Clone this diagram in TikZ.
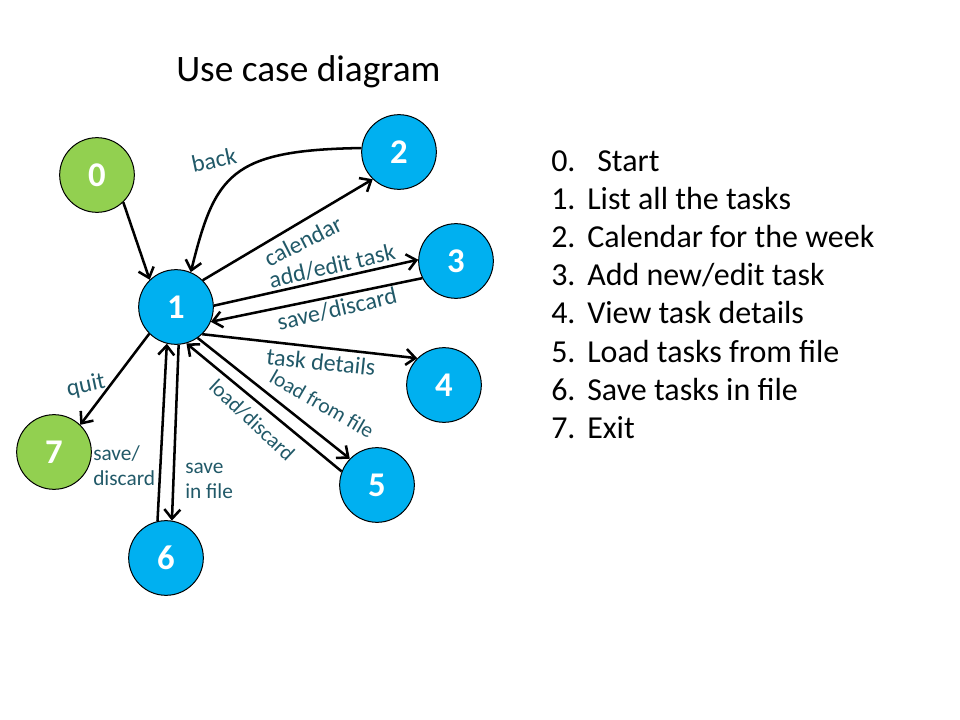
\documentclass[tikz,border=0pt]{standalone}
\usepackage{fontspec}
\setmainfont{Carlito}
\usetikzlibrary{arrows.meta, positioning}
\definecolor{caseblue}{RGB}{0,176,240}
\definecolor{casegreen}{RGB}{146,208,80}
\definecolor{labelteal}{RGB}{33,89,104}

\begin{document}
\begin{tikzpicture}[x=0.75pt, y=-0.75pt,
    state/.style={circle, draw=black, line width=0.75pt, minimum size=56pt,
        inner sep=0pt, text=white, font=\fontsize{26}{30}\selectfont\bfseries},
    blue state/.style={state, fill=caseblue},
    green state/.style={state, fill=casegreen},
    move/.style={-{Straight Barb[length=7pt, width=12pt]}, line width=1.9pt},
    edge label/.style={text=labelteal, inner sep=0pt, font=\fontsize{18}{21}\selectfont},
    small label/.style={edge label, font=\fontsize{16}{19}\selectfont},
    list item/.style={anchor=base west, inner sep=0pt, font=\fontsize{24}{28}\selectfont}]
    \useasboundingbox (0,0) rectangle (960,720);

    % title
    \node[anchor=base west, inner sep=0pt, font=\fontsize{28}{32}\selectfont] (title) at (176,82) {Use case diagram};

    % states
    \node[green state] (s0) at (97,175) {0};
    \node[blue state] (s1) at (176,307) {1};
    \node[blue state] (s2) at (399,152) {2};
    \node[blue state] (s3) at (456,261) {3};
    \node[blue state] (s4) at (444,385) {4};
    \node[blue state] (s5) at (377,485) {5};
    \node[blue state] (s6) at (166,558) {6};
    \node[green state] (s7) at (54,452) {7};

    % transitions
    \draw[move] (s0.-46) -- (s1.134);
    \draw[move] (s2.174) .. controls (230,150) and (215,175) .. (s1.67);
    \draw[move] (s1.45) -- (s2.226);
    \draw[move] (s1.2) -- (s3.178);
    \draw[move] (s3.207) -- (s1.-23);
    \draw[move] (s1.-46) -- (s4.135);
    \draw[move] (s1.-55) -- (s5.136);
    \draw[move] (s5.159) -- (s1.-74);
    \draw[move] (s1.-135) -- (s7.46);
    \draw[move] (s6.103) -- (s1.-104);
    \draw[move] (s1.-86) -- (s6.81);

    % labels
    \node[edge label, rotate=12] (lback) at (214,160) {back};
    \node[edge label, rotate=27] (lcal) at (303,241) {calendar};
    \node[edge label, rotate=13] (ladd) at (332,266) {add/edit task};
    \node[edge label, rotate=13] (lsave) at (337,309) {save/discard};
    \node[edge label, rotate=-6] (ldet) at (321,362) {task details};
    \node[small label, rotate=-30] (lload) at (322,404) {load from file};
    \node[small label, rotate=-43] (ldisc) at (252,420) {load/discard};
    \node[edge label, rotate=12] (lquit) at (86,386) {quit};
    \node[small label, align=left, anchor=west] (lexit) at (93,466) {save/\\discard};
    \node[small label, align=left, anchor=west] (lfile) at (185,481) {save\\in file};

    % legend
    \foreach \i/\txt in {0/{\hspace*{7.5pt}Start}, 1/{List all the tasks}, 2/{Calendar for the week},
        3/{Add new/edit task}, 4/{View task details}, 5/{Load tasks from file},
        6/{Save tasks in file}, 7/{Exit}} {
        \node[list item] (num\i) at (551, 172+38*\i) {\i.};
        \node[list item] (item\i) at (587, 172+38*\i) {\txt};
    }
\end{tikzpicture}
\end{document}
